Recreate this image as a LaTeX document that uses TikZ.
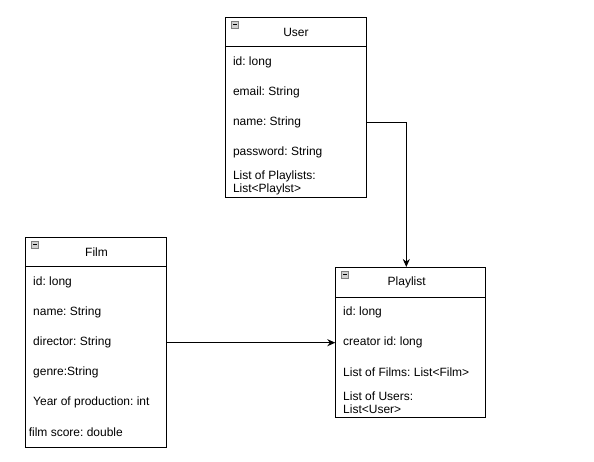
\documentclass[tikz,border=0pt]{standalone}
\usepackage{fontspec}
\setmainfont{Liberation Sans}
\usetikzlibrary{arrows.meta}
\frenchspacing
\begin{document}
\begin{tikzpicture}[x=1pt, y=-1pt, line width=1pt, font=\fontsize{12}{13.4}\selectfont,
  classbox/.style={draw, rectangle, inner sep=0pt},
  field/.style={anchor=west, inner sep=0pt, align=left},
  collapse/.style={draw=gray, fill=gray!35, line width=0.8pt, minimum size=6.5pt, inner sep=0pt,
    path picture={\draw[black, line width=1pt] ([xshift=1.3pt]path picture bounding box.west) -- ([xshift=-1.3pt]path picture bounding box.east);}},
  link/.style={-{Stealth[length=8pt, width=7pt]}}]
\useasboundingbox (0,0) rectangle (594,462);

% User class
\node[classbox, minimum width=141, minimum height=180] (user) at (296.3,107.3) {};
\draw ([yshift=-30pt]user.north west) -- ([yshift=-30pt]user.north east);
\node[collapse] (user-icon) at (235,25) {};
\node (user-title) at (296,32.5) {User};
\foreach \txt [count=\i] in {id: long, email: String, name: String, password: String, {List of Playlists:\\List<Playlst>}} {
  \node[field] (user-\i) at (232.5,32.7+30*\i) {\txt};
}

% Film class
\node[classbox, minimum width=141, minimum height=210] (film) at (96.3,342.3) {};
\draw ([yshift=-30pt]film.north west) -- ([yshift=-30pt]film.north east);
\node[collapse] (film-icon) at (35,245) {};
\node (film-title) at (96.5,252.5) {Film};
\foreach \txt [count=\i] in {id: long, name: String, director: String, genre:String, Year of production: int} {
  \node[field] (film-\i) at (32.7,252.7+30*\i) {\txt};
}
\node[field] (film-6) at (28.3,432.7) {film score: double};

% Playlist class
\node[classbox, minimum width=150, minimum height=150] (plist) at (410.8,342.5) {};
\draw ([yshift=-30pt]plist.north west) -- ([yshift=-30pt]plist.north east);
\node[collapse] (plist-icon) at (345,275) {};
\node (plist-title) at (406.7,282.5) {Playlist};
\foreach \txt [count=\i] in {id: long, creator id: long, List of Films: List<Film>, {List of Users:\\List<User>}} {
  \node[field] (plist-\i) at (342.7,282.7+30*\i) {\txt};
}

% Relations
\coordinate (bend) at (406.3,122.3);
\draw[link] (user.east |- bend) -- (bend) -- (bend |- plist.north);
\draw[link] (film.east |- plist-2) -- (plist.west |- plist-2);
\end{tikzpicture}
\end{document}
